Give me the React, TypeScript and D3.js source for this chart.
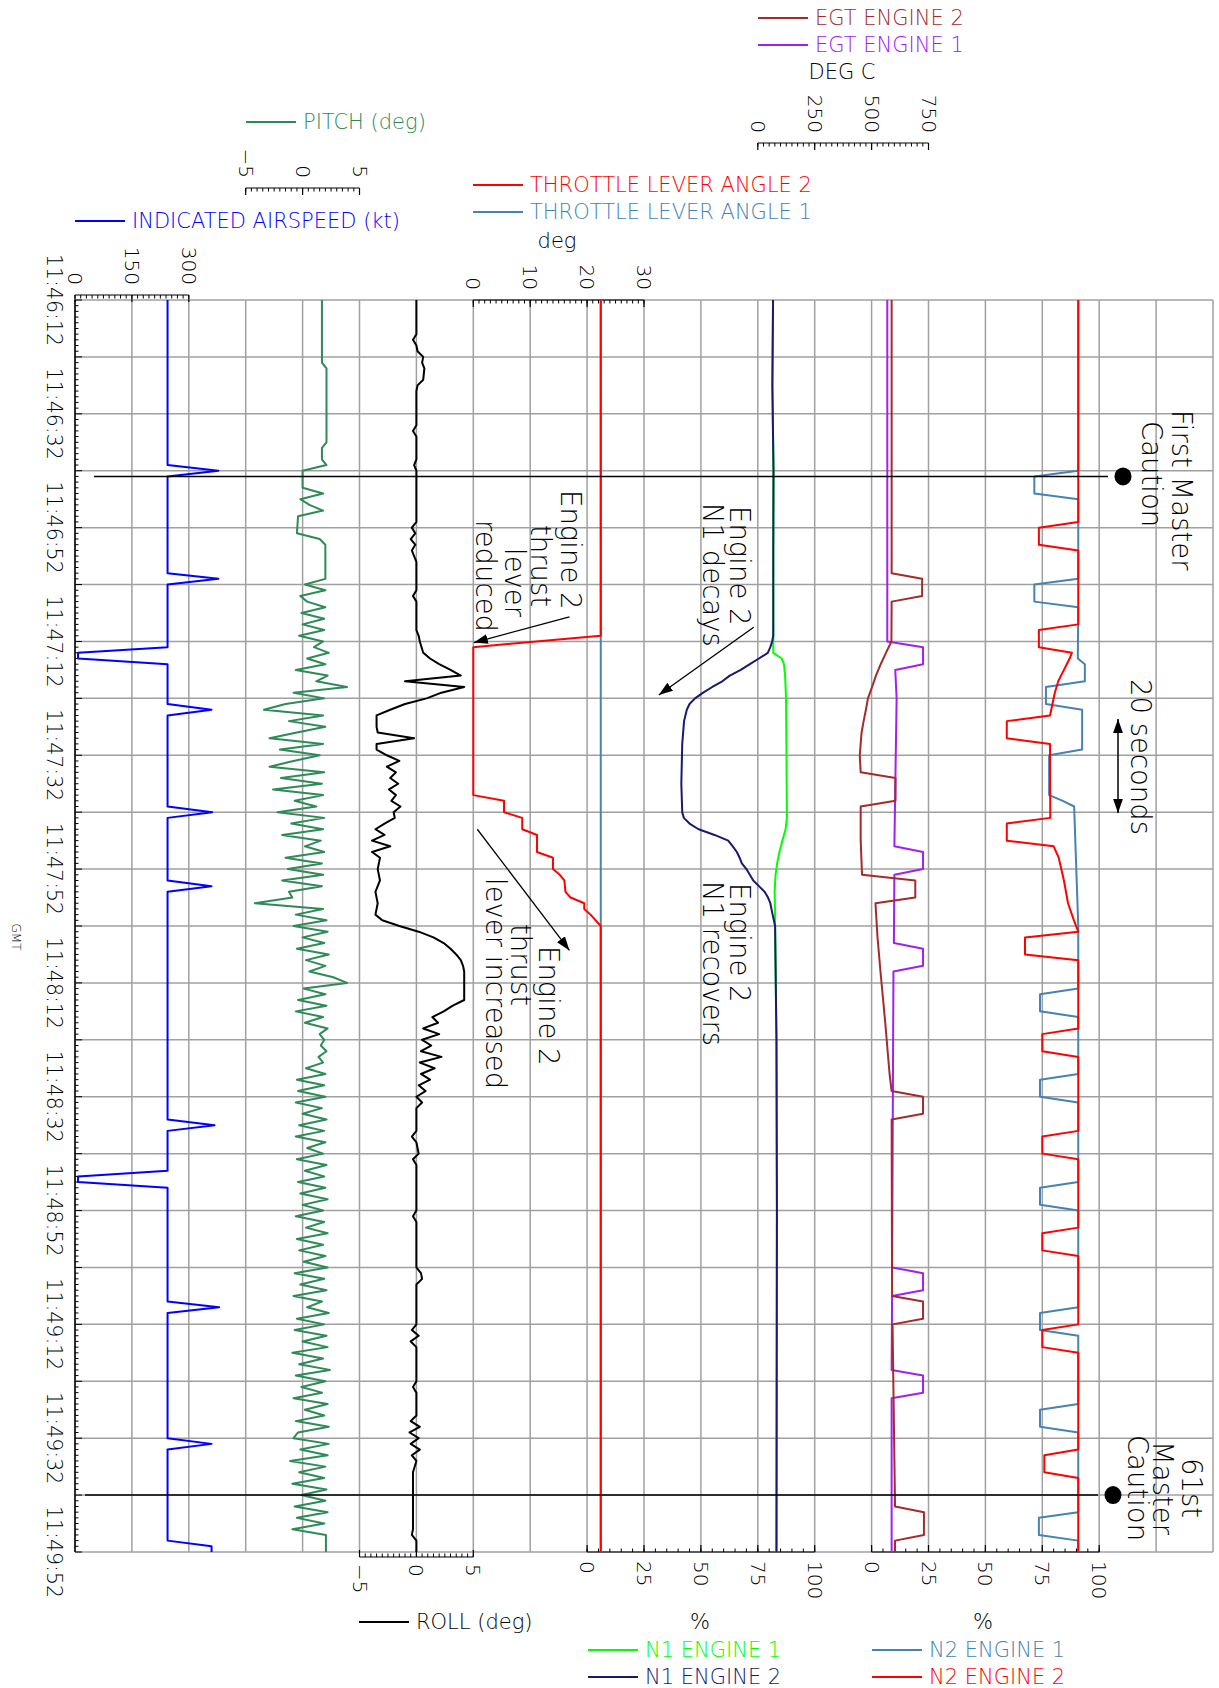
import React from 'react';
import * as d3 from 'd3';

type Pt = [number, number]; // [seconds after 11:46:12, value]

const TIME_LABELS = ['11:46:12', '11:46:32', '11:46:52', '11:47:12', '11:47:32', '11:47:52',
  '11:48:12', '11:48:32', '11:48:52', '11:49:12', '11:49:32', '11:49:52'];
const CAUTION_T = [31, 210];

const AIRSPEED: Pt[] = [[0, 244], [29, 244], [30, 378], [31, 244], [48, 244], [49, 378], [50, 244], [61, 244],
  [62, 8], [63, 8], [64, 244], [71, 244], [72, 360], [73, 244], [89, 244], [90, 362], [91, 244], [102, 244],
  [103, 360], [104, 244], [144, 244], [145, 368], [146, 244], [153, 244], [154, 8], [155, 8], [156, 244],
  [176, 244], [177, 380], [178, 244], [200, 244], [201, 360], [202, 244], [218, 244], [219, 360], [220, 360]];

const PITCH: Pt[] = [[0, 1.7], [11, 1.7], [12, 2.1], [25, 2.1], [26, 1.7], [28, 1.7], [29, 2.1], [30, 0], [33, 0],
  [34, 1.8], [35, -0.2], [36, 0.6], [37, 1.8], [38, -0.4], [41, -0.5], [42, 1.5], [43, 2.0], [49, 2.0],
  [50, 0.2], [51, 2.0], [52, -0.2], [53, 0.4], [54, 2.0], [55, -0.1], [56, 1.9], [57, 0.0], [58, 1.9], [59, -0.3],
  [60, 1.8], [61, 1.0], [62, 2.3], [63, 0.4], [64, 2.0], [65, -0.6], [66, 2.2], [67, 1.2], [68, 3.9], [69, -0.8],
  [70, 1.9], [71, -1.5], [72, -3.4], [73, 1.8], [74, -1.2], [75, 2.0], [76, -0.5], [77, -2.9], [78, 1.8],
  [79, -2.0], [80, 1.5], [81, -0.8], [82, -2.9], [83, 1.9], [84, -1.9], [85, 1.7], [86, -2.6], [87, 1.8],
  [88, -0.7], [89, 1.2], [90, -2.2], [91, 1.9], [92, -1.0], [93, 1.8], [94, -1.8], [95, 1.6], [96, 0.2],
  [97, 1.9], [98, -1.5], [99, 1.7], [100, -1.3], [101, 1.8], [102, -1.8], [103, 1.7], [104, -1.2], [105, -0.9],
  [106, -4.2], [107, 1.8], [108, -0.6], [109, 2.1], [110, -0.8], [111, 2.2], [112, 0.0], [113, 1.9], [114, -0.5],
  [115, 2.3], [116, 0.3], [117, 2.0], [118, 0.6], [119, 2.7], [120, 3.9], [121, 0.1], [122, 2.0], [123, -0.4],
  [124, 2.1], [125, -0.6], [126, 1.8], [127, 0.2], [128, 2.2], [129, 1.5], [130, 1.9], [131, 1.6], [132, 2.1],
  [133, 1.4], [134, 1.8], [135, 0.3], [136, 2.0], [137, -0.5], [138, 1.9], [139, -0.4], [140, 2.0], [141, -0.6],
  [142, 1.7], [143, 0.0], [144, 2.1], [145, -0.3], [146, 1.9], [147, -0.6], [148, 2.0], [149, 0.4], [150, 1.8],
  [151, -0.5], [152, 2.1], [153, 0.2], [154, 1.9], [155, -0.4], [156, 2.0], [157, -0.2], [158, 2.2], [159, 0.0],
  [160, 1.8], [161, -0.6], [162, 1.9], [163, 0.3], [164, 2.2], [165, -0.5], [166, 1.8], [167, -0.3], [168, 2.0],
  [169, 0.1], [170, 2.2], [171, -0.7], [172, 1.9], [173, -0.2], [174, 2.1], [175, -0.8], [176, 1.7], [177, 0.4],
  [178, 2.3], [179, -0.5], [180, 1.9], [181, -0.7], [182, 2.1], [183, 0.0], [184, 2.2], [185, -0.9], [186, 1.8],
  [187, -0.3], [188, 2.4], [189, -0.6], [190, 2.0], [191, -0.1], [192, 1.7], [193, -0.8], [194, 2.2], [195, 0.2],
  [196, 1.9], [197, -0.6], [198, 2.3], [199, -0.4], [200, -0.8], [201, 2.3], [202, -0.2], [203, 2.2], [204, -1.1],
  [205, 2.0], [206, -0.3], [207, 1.9], [208, -0.9], [209, 2.1], [210, -0.1], [211, 2.0], [212, -0.7], [213, 2.2],
  [214, -0.5], [215, 1.9], [216, -0.9], [217, 2.05], [220, 2.05]];

const ROLL: Pt[] = [[0, 0], [6, 0], [7, -0.3], [8, 0], [9, 0.1], [10, 0.6], [11, 0.5], [12, 0.7], [14, 0.6],
  [15, 0.1], [16, 0], [22, 0], [23, -0.3], [24, 0], [28, 0], [29, -0.2], [30, 0], [39, 0], [40, -0.4], [41, -0.1],
  [42, -0.5], [43, -0.1], [44, -0.4], [45, -0.2], [46, 0], [51, 0], [52, -0.3], [53, 0], [58, 0], [59, 0.2],
  [60, 0.3], [62, 0.6], [63, 1.2], [64, 2.0], [65, 3.0], [66, 3.9], [67, -1.0], [68, 4.2], [69, 2.2], [70, 0.9],
  [71, -1.0], [72, -2.3], [73, -3.5], [75, -3.5], [76, -3.4], [77, -0.2], [78, -3.5], [79, -3.5], [80, -2.6],
  [81, -1.5], [82, -2.6], [83, -1.8], [84, -2.3], [85, -1.6], [86, -2.4], [87, -1.8], [88, -2.2], [89, -1.4],
  [90, -2.0], [91, -1.9], [92, -2.8], [93, -3.6], [94, -2.8], [95, -3.9], [96, -2.3], [97, -3.9], [98, -3.2],
  [100, -3.4], [102, -3.2], [104, -3.6], [106, -3.4], [108, -3.6], [109, -3.0], [110, -1.5], [111, 0.2],
  [112, 1.5], [113, 2.4], [114, 3.0], [115, 3.5], [116, 3.9], [117, 4.1], [118, 4.2], [123, 4.2], [124, 3.2],
  [125, 2.4], [126, 1.4], [127, 1.9], [128, 0.6], [129, 2.0], [130, 0.5], [131, 1.3], [132, 0.4], [133, 2.2],
  [134, 0.3], [135, 1.6], [136, 0.4], [137, 1.2], [138, 0.2], [139, 0.8], [140, 0], [141, 0.5], [142, 0],
  [146, 0], [147, -0.4], [148, 0], [150, 0.2], [151, -0.3], [152, 0], [160, 0], [161, -0.3], [162, 0], [170, 0],
  [171, 0.4], [172, 0.5], [173, 0], [180, 0], [181, -0.4], [182, 0.2], [183, -0.5], [184, 0], [190, 0],
  [191, -0.3], [192, 0], [196, 0], [197, -0.5], [198, 0.3], [199, -0.6], [200, 0.2], [201, -0.5], [202, 0.3],
  [203, -0.4], [204, 0], [206, -0.3], [216, -0.3], [217, -0.4], [218, 0], [220, 0]];

const TLA1: Pt[] = [[0, 22.4], [220, 22.4]];
const TLA2: Pt[] = [[0, 22.4], [59, 22.4], [61, 0], [87, 0], [88, 5.4], [90, 5.4], [91, 8.6], [93, 8.6],
  [94, 11.2], [97, 11.2], [98, 14.0], [100, 14.0], [101, 15.2], [102, 16.0], [104, 16.2], [105, 17.1],
  [106, 19.5], [107, 19.5], [108, 20.6], [110, 22.4], [220, 22.4]];

const N1_E1: Pt[] = [[0, 81.7], [15, 81.4], [30, 81.9], [45, 81.8], [62, 81.8], [63, 85.5], [64, 86.5],
  [66, 87.0], [70, 87.4], [80, 87.6], [91, 87.8], [93, 87.2], [95, 85.8], [97, 84.5], [99, 83.5], [101, 82.8],
  [104, 82.4], [106, 82.5], [110, 82.6], [130, 83.2], [160, 83.4], [220, 83.2]];
const N1_E2: Pt[] = [[0, 81.7], [15, 81.4], [30, 81.9], [45, 81.8], [59, 81.8], [60, 81.3], [61, 80.5],
  [62, 79.4], [63, 75.5], [64, 71.5], [65, 67.5], [66, 62.7], [67, 59.4], [68, 55], [69, 51], [70, 47.4],
  [71, 45], [72, 43.8], [74, 42.6], [78, 41.8], [85, 41.4], [90, 41.8], [91, 42.5], [92, 45], [93, 49], [94, 56],
  [95, 62], [96, 64], [97, 65.8], [98, 67], [99, 68], [100, 70], [101, 71.5], [102, 73], [103, 75.5], [104, 78],
  [105, 79.5], [106, 80.5], [108, 81.5], [110, 82.6], [130, 83.2], [160, 83.4], [220, 83.2]];

const EGT1: Pt[] = [[0, 569], [60, 569], [61, 726], [64, 726], [65, 604], [70, 610], [96, 600], [97, 726],
  [100, 726], [101, 600], [113, 598], [114, 726], [117, 726], [118, 596], [170, 590], [171, 726], [174, 726],
  [175, 590], [188, 588], [189, 726], [192, 726], [193, 588], [220, 588]];
const EGT2: Pt[] = [[0, 588], [48, 588], [49, 722], [52, 722], [53, 588], [60, 587], [62, 563], [64, 540],
  [66, 519], [68, 502], [70, 484], [72, 475], [74, 465], [76, 456], [80, 448], [83, 452], [84, 605], [88, 605],
  [89, 452], [95, 452], [101, 458], [102, 692], [105, 692], [106, 517], [112, 526], [118, 539], [127, 560],
  [136, 579], [139, 588], [140, 726], [143, 726], [144, 588], [175, 590], [176, 726], [179, 726], [180, 592],
  [212, 603], [213, 730], [217, 730], [218, 603], [220, 603]];

const N2_E1: Pt[] = [[0, 90.8], [30, 90.8], [31, 71.5], [34, 71.5], [35, 90.8], [49, 90.8], [50, 71.5],
  [53, 71.5], [54, 90.8], [63, 90.6], [64, 93.7], [67, 93.7], [68, 76.6], [71, 76.6], [72, 92.5], [79, 92.5],
  [80, 78], [87, 78], [88, 84], [89, 89], [95, 89.5], [110, 90.8], [121, 90.8], [122, 74], [125, 74], [126, 90.8],
  [136, 90.8], [137, 74], [140, 74], [141, 90.8], [155, 90.8], [156, 74], [159, 74], [160, 90.8], [177, 90.8],
  [178, 74], [181, 74], [182, 90.8], [194, 90.8], [195, 74], [198, 74], [199, 90.8], [213, 90.8], [214, 73.5],
  [217, 73.5], [218, 90.8], [220, 90.8]];
const N2_E2: Pt[] = [[0, 90.8], [39, 90.8], [40, 73.5], [43, 73.5], [44, 90.8], [57, 90.8], [58, 73.5],
  [61, 73.5], [62, 88], [63, 87], [65, 84.5], [67, 82], [69, 80.5], [73, 78.4], [74, 59.4], [77, 59.4], [78, 78.4],
  [91, 78.5], [92, 59.4], [95, 59.4], [96, 80], [98, 82.2], [102, 84.5], [106, 86.3], [109, 88.9], [111, 90.8],
  [112, 67.4], [115, 67.4], [116, 90.8], [128, 90.8], [129, 75], [132, 75], [133, 90.8], [146, 90.8], [147, 75],
  [150, 75], [151, 90.8], [163, 90.8], [164, 75], [167, 75], [168, 90.8], [180, 90.8], [181, 75], [184, 75],
  [185, 90.8], [202, 90.8], [203, 75.9], [206, 75.9], [207, 90.8], [220, 90.8]];

const FONT = "'DejaVu Sans', Verdana, sans-serif";
const W = 1219, H = 1688;
const PL = 75, PR = 1213, PT = 300, PB = 1552;
const col = (i: number) => PL + (PR - PL) * i / 20;
const LEG = 21; // legend / unit text size

const C = {
  air: '#0000ff', pitch: '#2e8b57', roll: '#000000', tla2: '#ff0000', tla1: '#4682b4',
  n1e1: '#00ff00', n1e2: '#191970', egt2: '#a52a2a', egt1: '#a020f0', n2e1: '#4682b4', n2e2: '#ff0000',
  grid: '#a0a0a0',
};

type Lin = d3.ScaleLinear<number, number>;

function VText({ x, y, anchor = 'start', size = 20, fill = '#000', children }:
  { x: number; y: number; anchor?: string; size?: number; fill?: string; children: React.ReactNode }) {
  return (
    <text transform={`translate(${x},${y}) rotate(90)`} textAnchor={anchor} dominantBaseline="central"
      fontSize={size} fill={fill}>{children}</text>
  );
}

function ValueAxis({ scale, majors, step, y0, side, gap }:
  { scale: Lin; majors: number[]; step: number; y0: number; side: number; gap: number }) {
  const [d0, d1] = scale.domain();
  const minors = d3.range(d0, d1 + step / 2, step);
  const dir = side < 0 ? 1 : -1; // ticks point toward the plot
  const fmt = (v: number) => (v < 0 ? '\u2212' + Math.abs(v) : String(v));
  return (
    <g>
      <line x1={scale(d0)} x2={scale(d1)} y1={y0} y2={y0} stroke="#000" strokeWidth={1.2} />
      {minors.map(v => (
        <line key={'m' + v} x1={scale(v)} x2={scale(v)} y1={y0} y2={y0 + dir * 3.5} stroke="#000" strokeWidth={1} />
      ))}
      {majors.map(v => (
        <line key={'M' + v} x1={scale(v)} x2={scale(v)} y1={y0} y2={y0 + dir * 7} stroke="#000" strokeWidth={1.2} />
      ))}
      {majors.map(v => (
        <VText key={'t' + v} x={scale(v)} y={y0 + side * gap} anchor={side < 0 ? 'end' : 'start'}>{fmt(v)}</VText>
      ))}
    </g>
  );
}

function Legend({ x, y, color, label }: { x: number; y: number; color: string; label: string }) {
  return (
    <g>
      <line x1={x} x2={x + 50} y1={y} y2={y} stroke={color} strokeWidth={2} />
      <text x={x + 57} y={y} dominantBaseline="central" fontSize={LEG} fill={color}>{label}</text>
    </g>
  );
}

export default function App() {
  const y = d3.scaleLinear().domain([0, 220]).range([PT, PB]);
  const xAir = d3.scaleLinear().domain([0, 300]).range([col(0), col(2)]);
  const xPitch = d3.scaleLinear().domain([-5, 5]).range([col(3), col(5)]);
  const xRoll = d3.scaleLinear().domain([-5, 5]).range([col(5), col(7)]);
  const xTla = d3.scaleLinear().domain([0, 30]).range([col(7), col(10)]);
  const xN1 = d3.scaleLinear().domain([0, 100]).range([col(9), col(13)]);
  const xEgt = d3.scaleLinear().domain([0, 750]).range([col(12), col(15)]);
  const xN2 = d3.scaleLinear().domain([0, 100]).range([col(14), col(18)]);

  const path = (data: Pt[], sx: Lin) =>
    d3.line<Pt>().x(d => sx(d[1])).y(d => y(d[0]))(data) ?? '';

  const series: [Pt[], Lin, string][] = [
    [AIRSPEED, xAir, C.air], [PITCH, xPitch, C.pitch], [ROLL, xRoll, C.roll],
    [TLA1, xTla, C.tla1], [TLA2, xTla, C.tla2], [N1_E1, xN1, C.n1e1], [N1_E2, xN1, C.n1e2],
    [EGT1, xEgt, C.egt1], [EGT2, xEgt, C.egt2], [N2_E1, xN2, C.n2e1], [N2_E2, xN2, C.n2e2],
  ];

  const secs = d3.range(0, 221, 1);
  const gridT = d3.range(0, 221, 10);
  const gridC = d3.range(0, 21);

  // annotation arrows, anchored in data space
  const arrows = [
    { x1: xTla(16.9), y1: y(55.7), x2: xTla(0.1), y2: y(60.2) },
    { x1: xTla(0.7), y1: y(93), x2: xTla(16.9), y2: y(114.3) },
    { x1: xN1(73.2), y1: y(57.5), x2: xN1(31.5), y2: y(69.4) },
  ];

  return (
    <svg width={W} height={H} style={{ position: 'absolute', left: 0, top: 0, background: '#fff' }}
      fontFamily={FONT} fontWeight={300}>
      <defs>
        <marker id="ah" viewBox="0 0 10 10" refX="10" refY="5" markerWidth="14" markerHeight="14"
          markerUnits="userSpaceOnUse" orient="auto-start-reverse">
          <path d="M0,1.5 L10,5 L0,8.5 z" fill="#000" />
        </marker>
      </defs>

      {/* grid */}
      {gridC.map(i => (
        <line key={'gc' + i} x1={col(i)} x2={col(i)} y1={PT} y2={PB} stroke={C.grid} strokeWidth={1.5} />
      ))}
      {gridT.map(t => (
        <line key={'gt' + t} x1={PL} x2={PR} y1={y(t)} y2={y(t)} stroke={C.grid} strokeWidth={1.5} />
      ))}

      {/* time axis */}
      <line x1={PL} x2={PL} y1={PT} y2={PB} stroke="#000" strokeWidth={1.5} />
      {secs.map(t => (
        <line key={'s' + t} x1={PL} x2={PL + (t % 10 === 0 ? 7 : 3.5)} y1={y(t)} y2={y(t)} stroke="#000" strokeWidth={1} />
      ))}
      {TIME_LABELS.map((s, i) => (
        <VText key={s} x={54} y={y(i * 20)} anchor="middle" size={20.5}>{s}</VText>
      ))}
      <VText x={16} y={937} anchor="middle" size={12}>GMT</VText>

      {/* value axes */}
      <ValueAxis scale={xAir} majors={[0, 150, 300]} step={15} y0={295} side={-1} gap={10} />
      <ValueAxis scale={xPitch} majors={[-5, 0, 5]} step={0.5} y0={188} side={-1} gap={10} />
      <ValueAxis scale={xTla} majors={[0, 10, 20, 30]} step={1} y0={300} side={-1} gap={10} />
      <ValueAxis scale={xEgt} majors={[0, 250, 500, 750]} step={25} y0={143} side={-1} gap={10} />
      <ValueAxis scale={xRoll} majors={[-5, 0, 5]} step={0.5} y0={1557} side={1} gap={7} />
      <ValueAxis scale={xN1} majors={[0, 25, 50, 75, 100]} step={5} y0={1552} side={1} gap={9} />
      <ValueAxis scale={xN2} majors={[0, 25, 50, 75, 100]} step={5} y0={1552} side={1} gap={9} />

      {/* data */}
      {series.map(([d, sx, c], i) => (
        <path key={'p' + i} d={path(d, sx)} fill="none" stroke={c} strokeWidth={2} strokeLinejoin="round" />
      ))}

      {/* master caution markers */}
      <line x1={94} x2={1108} y1={y(CAUTION_T[0])} y2={y(CAUTION_T[0])} stroke="#000" strokeWidth={1.5} />
      <ellipse cx={1123} cy={y(CAUTION_T[0])} rx={8.5} ry={9} fill="#000" />
      <line x1={85} x2={1098} y1={y(CAUTION_T[1])} y2={y(CAUTION_T[1])} stroke="#000" strokeWidth={1.5} />
      <ellipse cx={1113} cy={y(CAUTION_T[1])} rx={8.5} ry={9} fill="#000" />

      {/* legends */}
      <Legend x={758} y={18} color={C.egt2} label="EGT ENGINE 2" />
      <Legend x={758} y={45} color={C.egt1} label="EGT ENGINE 1" />
      <text x={842} y={72} textAnchor="middle" dominantBaseline="central" fontSize={LEG}>DEG C</text>
      <Legend x={246} y={122} color={C.pitch} label="PITCH (deg)" />
      <Legend x={473} y={185} color={C.tla2} label="THROTTLE LEVER ANGLE 2" />
      <Legend x={473} y={212} color={C.tla1} label="THROTTLE LEVER ANGLE 1" />
      <text x={557} y={241} textAnchor="middle" dominantBaseline="central" fontSize={LEG}>deg</text>
      <Legend x={75} y={221} color={C.air} label="INDICATED AIRSPEED (kt)" />
      <Legend x={359} y={1622} color={C.roll} label="ROLL (deg)" />
      <text x={700} y={1622} textAnchor="middle" dominantBaseline="central" fontSize={LEG}>%</text>
      <text x={983} y={1622} textAnchor="middle" dominantBaseline="central" fontSize={LEG}>%</text>
      <Legend x={588} y={1650} color={C.n1e1} label="N1 ENGINE 1" />
      <Legend x={588} y={1677} color={C.n1e2} label="N1 ENGINE 2" />
      <Legend x={872} y={1650} color={C.n2e1} label="N2 ENGINE 1" />
      <Legend x={872} y={1677} color={C.n2e2} label="N2 ENGINE 2" />

      {/* annotations */}
      {arrows.map((a, i) => (
        <line key={'a' + i} x1={a.x1} y1={a.y1} x2={a.x2} y2={a.y2} stroke="#000" strokeWidth={1.3} markerEnd="url(#ah)" />
      ))}
      <line x1={1118} x2={1118} y1={719} y2={813} stroke="#000" strokeWidth={1.5}
        markerStart="url(#ah)" markerEnd="url(#ah)" />
      <VText x={1141} y={757} anchor="middle" size={27.5}>20 seconds</VText>

      <VText x={1182} y={410} size={27.5}>First Master</VText>
      <VText x={1152} y={421} size={27.5}>Caution</VText>
      <VText x={1192} y={1488} anchor="middle" size={27.5}>61st</VText>
      <VText x={1163} y={1488} anchor="middle" size={27.5}>Master</VText>
      <VText x={1138} y={1488} anchor="middle" size={27.5}>Caution</VText>

      <VText x={571} y={490} size={27.5}>Engine 2</VText>
      <VText x={541} y={525} size={27.5}>thrust</VText>
      <VText x={515} y={548} size={27.5}>lever</VText>
      <VText x={486} y={520} size={27.5}>reduced</VText>

      <VText x={740} y={506} size={27.5}>Engine 2</VText>
      <VText x={713} y={503} size={27.5}>N1 decays</VText>

      <VText x={740} y={883} size={27.5}>Engine 2</VText>
      <VText x={713} y={881} size={27.5}>N1 recovers</VText>

      <VText x={549} y={946} size={27.5}>Engine 2</VText>
      <VText x={521} y={924} size={27.5}>thrust</VText>
      <VText x={496} y={878} size={27.5}>lever increased</VText>
    </svg>
  );
}
